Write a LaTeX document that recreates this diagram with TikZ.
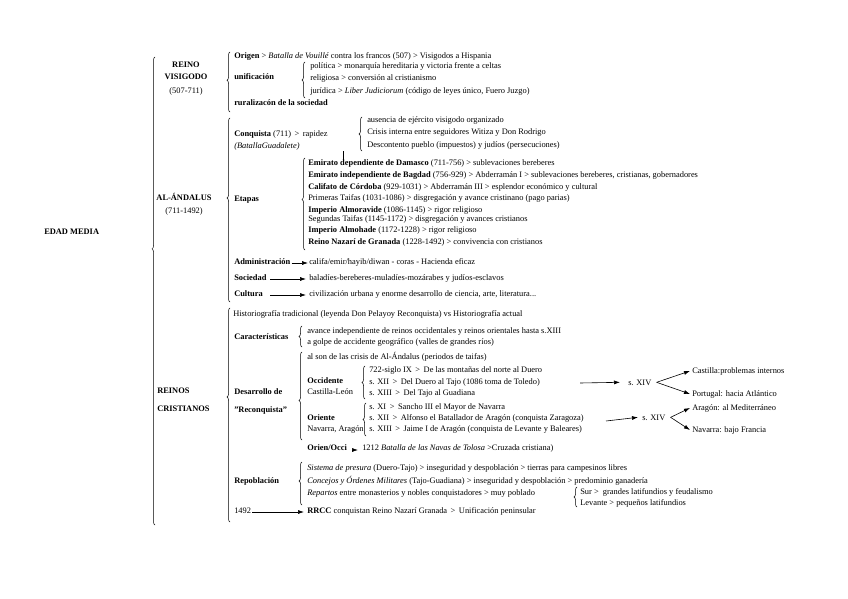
\documentclass[tikz,border=0pt]{standalone}
\usepackage{fontspec}
\setmainfont{Liberation Serif}
\usetikzlibrary{arrows.meta,decorations.pathreplacing}

\begin{document}
\begin{tikzpicture}[x=1pt, y=-1pt, line width=0.5pt,
  txt/.style={anchor=base west, inner sep=0pt, font=\fontsize{8.4}{9}\selectfont},
  hd/.style={txt, font=\fontsize{8.4}{9}\selectfont\bfseries},
  ctr/.style={hd, anchor=base},
  brc/.style={decorate, decoration={brace, amplitude=3pt, aspect=#1}},
  brc/.default=0.5,
  arr/.style={-{Latex[length=6pt,width=4pt]}, line width=0.6pt}]
  \useasboundingbox (0,0) rectangle (848,599);
  % edad media
  \node[hd] (edad) at (44,234) {EDAD MEDIA};
  \draw[brc=0.59] (155,525) -- (155,57);
  % reino visigodo
  \node[ctr] (rv1) at (186,68) {REINO};
  \node[ctr] (rv2) at (186,80) {VISIGODO};
  \node[txt, anchor=base] (rv3) at (186,94) {(507-711)};
  \draw[brc=0.53] (230,112) -- (230,52);
  \node[txt] (origen) at (234,59) {\textbf{Origen} > \textit{Batalla de Vouillé} contra los francos (507) > Visigodos a Hispania};
  \node[hd] (unif) at (234,80) {unificación};
  \draw[brc] (305,98) -- (305,62);
  \node[txt] (pol) at (310,69) {política > monarquía hereditaria y victoria frente a celtas};
  \node[txt] (rel) at (310,81) {religiosa > conversión al cristianismo};
  \node[txt] (jur) at (310,94) {jurídica > \textit{Liber Judiciorum} (código de leyes único, Fuero Juzgo)};
  \node[hd] (rural) at (234,106) {ruralizacón de la sociedad};
  % al-andalus
  \node[ctr] (and1) at (184,200) {AL-ÁNDALUS};
  \node[txt, anchor=base] (and2) at (184,213) {(711-1492)};
  \draw[brc=0.565] (230,302) -- (230,118);
  \node[txt] (conq) at (234,136) {\textbf{Conquista} (711) \,>\, rapidez};
  \node[txt] (batg) at (234,148) {\textit{(BatallaGuadalete)}};
  \draw[brc] (362,151) -- (362,117);
  \node[txt] (c1) at (367,123) {ausencia de ejército visigodo organizado};
  \node[txt] (c2) at (367,135) {Crisis interna entre seguidores Witiza y Don Rodrigo};
  \node[txt] (c3) at (367,147) {Descontento pueblo (impuestos) y judíos (persecuciones)};
  \draw (343,151) -- (343,160);
  \node[hd] (etapas) at (234,201) {Etapas};
  \draw[brc=0.55] (305,250) -- (305,158);
  \node[txt] (e1) at (308,165) {\textbf{Emirato dependiente de Damasco} (711-756) > sublevaciones bereberes};
  \node[txt] (e2) at (308,177) {\textbf{Emirato independiente de Bagdad} (756-929) > Abderramán I > sublevaciones bereberes, cristianas, gobernadores};
  \node[txt] (e3) at (308,189) {\textbf{Califato de Córdoba} (929-1031) > Abderramán III > esplendor económico y cultural};
  \node[txt] (e4) at (308,200) {Primeras Taifas (1031-1086) > disgregación y avance cristinano (pago parias)};
  \node[txt] (e5) at (308,212) {\textbf{Imperio Almoravide} (1086-1145) > rigor religioso};
  \node[txt] (e6) at (308,221) {Segundas Taifas (1145-1172) > disgregación y avances cristianos};
  \node[txt] (e7) at (308,232) {\textbf{Imperio Almohade} (1172-1228) > rigor religioso};
  \node[txt] (e8) at (308,244) {\textbf{Reino Nazarí de Granada} (1228-1492) > convivencia con cristianos};
  \node[hd] (adm) at (234,264) {Administración};
  \node[txt] (admT) at (309,264) {califa/emir/hayib/diwan - coras - Hacienda eficaz};
  \draw[arr] ([shift={(1pt,1pt)}]adm.base east) -- ([shift={(-1pt,1pt)}]admT.base west);
  \node[hd] (soc) at (234,280) {Sociedad};
  \node[txt] (socT) at (309,280) {baladíes-bereberes-muladíes-mozárabes y judíos-esclavos};
  \coordinate (socA) at (270,279);
  \draw[arr] (socA) -- ([shift={(-3pt,1pt)}]socT.base west);
  \node[hd] (cult) at (234,296) {Cultura};
  \node[txt] (cultT) at (309,296) {civilización urbana y enorme desarrollo de ciencia, arte, literatura...};
  \coordinate (cultA) at (270,295);
  \draw[arr] (cultA) -- ([shift={(-3pt,1pt)}]cultT.base west);
  % reinos cristianos
  \node[hd] (rc1) at (157,393) {REINOS};
  \node[hd] (rc2) at (157,411) {CRISTIANOS};
  \draw[brc=0.584] (230,522) -- (230,308);
  \node[txt] (hist) at (233,316) {Historiografía tradicional (leyenda Don Pelayoy Reconquista) vs Historiografía actual};
  \node[hd] (car) at (234,339) {Características};
  \draw[brc] (302,347) -- (302,326);
  \node[txt] (car1) at (307,333) {avance independiente de reinos occidentales y reinos orientales hasta s.XIII};
  \node[txt] (car2) at (307,344) {a golpe de accidente geográfico (valles de grandes ríos)};
  \node[hd] (des1) at (234,394) {Desarrollo de};
  \node[hd] (des2) at (234,412) {"Reconquista"};
  \draw[brc=0.45] (302,440) -- (302,352);
  \node[txt] (alson) at (307,359) {al son de las crisis de Al-Ándalus (periodos de taifas)};
  \node[hd] (occ) at (307,383) {Occidente};
  \node[txt] (occ2) at (307,394) {Castilla-León};
  \draw[brc] (365,399) -- (365,366);
  \node[txt] (o1) at (369,372) {722-siglo IX \,>\, De las montañas del norte al Duero};
  \node[txt] (o2) at (369,384) {s. XII \,>\, Del Duero al Tajo (1086 toma de Toledo)};
  \node[txt] (o3) at (369,395) {s. XIII \,>\, Del Tajo al Guadiana};
  \coordinate (occA) at (580,383);
  \node[txt] (xiv1) at (628,385) {s. XIV};
  \draw[arr] (occA) -- ([xshift=-8pt]xiv1.west);
  \node[txt] (cas) at (692,373) {Castilla:problemas internos};
  \node[txt] (por) at (692,396) {Portugal: hacia Atlántico};
  \draw[arr] ([xshift=5pt]xiv1.east) -- ([xshift=-2pt]cas.west);
  \draw[arr] ([xshift=5pt]xiv1.east) -- ([xshift=-2pt]por.west);
  \node[hd] (ori) at (307,420) {Oriente};
  \node[txt] (ori2) at (307,431) {Navarra, Aragón};
  \draw[brc] (366,436) -- (366,403);
  \node[txt] (r1) at (369,409) {s. XI \,>\, Sancho III el Mayor de Navarra};
  \node[txt] (r2) at (369,420) {s. XII \,>\, Alfonso el Batallador de Aragón (conquista Zaragoza)};
  \node[txt] (r3) at (369,431) {s. XIII \,>\, Jaime I de Aragón (conquista de Levante y Baleares)};
  \coordinate (oriA) at (606,421);
  \node[txt] (xiv2) at (642,420) {s. XIV};
  \draw[arr] (oriA) -- ([xshift=-4pt]xiv2.west);
  \node[txt] (ara) at (692,410) {Aragón: al Mediterráneo};
  \node[txt] (nav) at (692,432) {Navarra: bajo Francia};
  \draw[arr] ([xshift=5pt]xiv2.east) -- ([xshift=-2pt]ara.west);
  \draw[arr] ([xshift=5pt]xiv2.east) -- ([xshift=-2pt]nav.west);
  \node[hd] (oo) at (307,450) {Orien/Occi};
  \node[txt] (navas) at (362,450) {1212 \textit{Batalla de las Navas de Tolosa} >Cruzada cristiana)};
  \draw[arr] ([shift={(5pt,0pt)}]oo.base east) -- ([shift={(-4pt,0pt)}]navas.base west);
  % repoblacion
  \node[hd] (rep) at (234,483) {Repoblación};
  \draw[brc=0.56] (302,505) -- (302,462);
  \node[txt] (rp1) at (307,470) {\textit{Sistema de presura} (Duero-Tajo) > inseguridad y despoblación > tierras para campesinos libres};
  \node[txt] (rp2) at (307,483) {\textit{Concejos y Órdenes Militares} (Tajo-Guadiana) > inseguridad y despoblación > predominio ganadería};
  \node[txt] (rp3) at (307,495) {\textit{Repartos} entre monasterios y nobles conquistadores > muy poblado};
  \draw[brc] (577,507) -- (577,487);
  \node[txt] (sur) at (580,494) {Sur > \ grandes latifundios y feudalismo};
  \node[txt] (lev) at (580,505) {Levante > pequeños latifundios};
  \node[txt] (y1492) at (234,513) {1492};
  \coordinate (yA) at (252,512);
  \node[txt] (rrcc) at (307,513) {\textbf{RRCC} conquistan Reino Nazarí Granada \,>\, Unificación peninsular};
  \draw[arr] (yA) -- ([shift={(-3pt,1pt)}]rrcc.base west);
\end{tikzpicture}
\end{document}
